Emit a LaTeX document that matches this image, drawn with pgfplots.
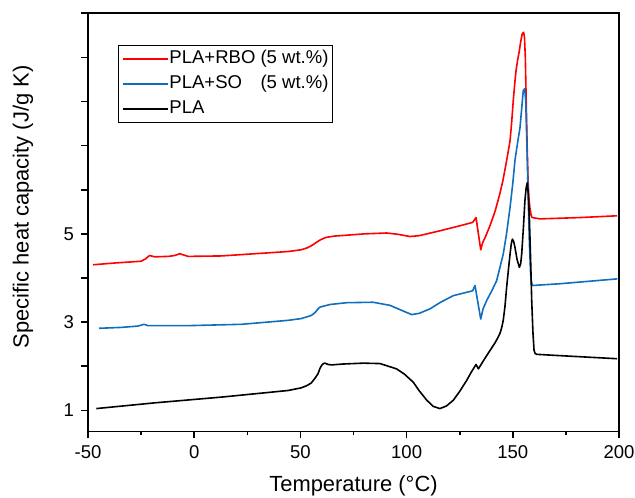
\documentclass[border=0pt]{standalone}
\usepackage{fontspec}
\setmainfont{Liberation Sans}
\usepackage{pgfplots}
\pgfplotsset{compat=1.18}
\definecolor{cpred}{RGB}{255,0,0}
\definecolor{cpblue}{RGB}{16,110,190}

\begin{document}
\begin{tikzpicture}
\begin{axis}[
    scale only axis,
    width=265.5bp, height=209bp,
    xmin=-50, xmax=200,
    ymin=0.525, ymax=10,
    xtick={-50,0,...,200},
    minor xtick={-25,25,...,175},
    ytick={1,3,5},
    extra y ticks={2,4,6,7,8,9,10},
    extra y tick labels={},
    tick pos=left,
    tick align=outside,
    major tick length=3.5bp,
    minor tick length=2bp,
    axis line style={line width=0.8bp},
    every tick/.style={line width=0.8bp, black},
    tick label style={font=\fontsize{9.3}{11}\selectfont},
    /pgf/number format/assume math mode=true,
    label style={font=\fontsize{11}{13}\selectfont},
    xlabel={Temperature (°C)},
    ylabel={Specific heat capacity (J/g K)},
    xlabel style={at={(axis description cs:0.5,-0.1316)}, anchor=center},
    ylabel style={at={(axis description cs:-0.1224,0.537)}, anchor=center},
    legend style={
        at={(axis description cs:0.0571,0.925)}, anchor=north west,
        draw=black, line width=0.5bp,
        font=\fontsize{9.3}{11}\selectfont,
        inner xsep=1.5bp, inner ysep=2.2bp,
        row sep=3bp,
        nodes={inner xsep=0.5bp, inner ysep=0pt, text height=7bp, text depth=2.5bp},
        /tikz/every even column/.append style={column sep=0pt},
    },
    legend cell align=left,
    legend image code/.code={\draw[#1] (0bp,0bp) -- (22.5bp,0bp);},
    every axis plot/.append style={line width=0.8bp, line join=round},
]

% PLA+RBO
\addplot[cpred] coordinates {
(-47.6,4.30) (-37.4,4.34) (-25.0,4.38) (-23.0,4.43) (-21.0,4.51) (-18.6,4.48)
(-12.0,4.49) (-9.2,4.51) (-6.8,4.55) (-2.9,4.49) (12.8,4.50) (28.5,4.55)
(44.2,4.60) (50.4,4.64) (53.0,4.68) (55.1,4.73) (57.0,4.79) (59.2,4.86)
(62.0,4.92) (66.0,4.95) (71.8,4.97) (80.0,5.00) (90.6,5.02) (96.0,4.99)
(101.6,4.94) (106.0,4.96) (115.7,5.07) (124.0,5.17) (131.1,5.26) (132.7,5.37)
(133.8,5.00) (134.9,4.64) (135.8,4.80) (136.9,4.91) (139.3,5.19) (141.7,5.52)
(144.0,5.93) (145.3,6.20) (146.4,6.48) (147.6,6.80) (148.7,7.11) (149.5,7.55)
(150.2,8.01) (150.9,8.40) (151.5,8.69) (152.2,8.92) (152.9,9.10) (153.7,9.35)
(154.4,9.53) (155.1,9.57) (155.5,9.45) (155.9,9.00) (156.4,7.79) (156.8,6.90)
(157.2,6.20) (157.6,5.80) (158.1,5.57) (158.6,5.43) (159.1,5.37)
(162.8,5.34) (181.6,5.37) (199.1,5.41)
};
\addlegendentry{PLA+RBO (5 wt.\%)}

% PLA+SO
\addplot[cpblue] coordinates {
(-44.8,2.86) (-34.3,2.88) (-26.5,2.91) (-23.6,2.95) (-21.8,2.92) (-2.9,2.92)
(22.2,2.95) (44.2,3.04) (50.4,3.08) (55.1,3.15) (57.0,3.22) (58.3,3.30)
(59.2,3.34) (64.0,3.40) (71.8,3.44) (84.2,3.45) (92.2,3.38) (97.0,3.28)
(102.4,3.17) (106.0,3.20) (111.0,3.30) (116.0,3.45) (122.0,3.60) (131.1,3.71)
(132.2,3.83) (133.8,3.38) (134.9,3.07) (136.0,3.30) (137.7,3.49) (140.0,3.70)
(142.4,3.94) (144.0,4.25) (145.5,4.54) (147.1,5.02) (148.7,5.60) (150.0,6.15)
(151.0,6.66) (152.2,7.05) (153.4,7.41) (154.2,7.85) (154.9,8.24) (155.6,8.29)
(156.1,8.01) (156.7,6.90) (157.3,5.75) (157.8,4.80) (158.4,4.09) (158.8,3.90)
(159.3,3.83) (172.2,3.87) (199.2,3.98)
};
\addlegendentry{\rlap{PLA+SO}\phantom{PLA+RBO }(5 wt.\%)}

% PLA
\addplot[black] coordinates {
(-46.1,1.04) (-18.6,1.17) (12.8,1.30) (44.2,1.45) (50.4,1.51) (53.0,1.56)
(55.1,1.62) (56.1,1.68) (57.2,1.75) (58.3,1.83) (59.2,1.95) (60.0,2.02)
(60.8,2.06) (61.6,2.07) (63.0,2.04) (64.7,2.03) (70.0,2.05) (79.6,2.07)
(87.5,2.06) (95.3,1.94) (99.0,1.82) (103.1,1.64) (106.0,1.44) (109.5,1.23)
(112.5,1.09) (115.7,1.04) (118.8,1.10) (122.0,1.23) (125.0,1.43) (128.3,1.68)
(130.5,1.87) (132.7,2.04) (133.8,1.94) (136.5,2.15) (139.3,2.36) (141.5,2.52)
(143.0,2.65) (144.0,2.75) (144.8,2.88) (145.5,3.04) (146.3,3.35) (147.1,3.79)
(148.0,4.22) (148.7,4.54) (149.3,4.78) (149.8,4.88) (150.4,4.83) (151.0,4.70)
(152.0,4.42) (153.1,4.24) (153.7,4.32) (154.2,4.55) (155.0,5.15) (155.7,5.75)
(156.3,6.05) (156.8,6.16) (157.3,5.90) (157.8,5.37) (158.4,4.40) (158.9,3.49)
(159.5,2.75) (160.0,2.36) (160.5,2.29) (161.2,2.27) (172.2,2.24) (199.1,2.17)
};
\addlegendentry{PLA}

\end{axis}
\pgfresetboundingbox
\path (current axis.south west) ++(-44bp,-33bp) coordinate (bbsw);
\path (current axis.north east) ++(8bp,6.65bp) coordinate (bbne);
\path[use as bounding box] (bbsw) rectangle (bbne);
\end{tikzpicture}
\end{document}
